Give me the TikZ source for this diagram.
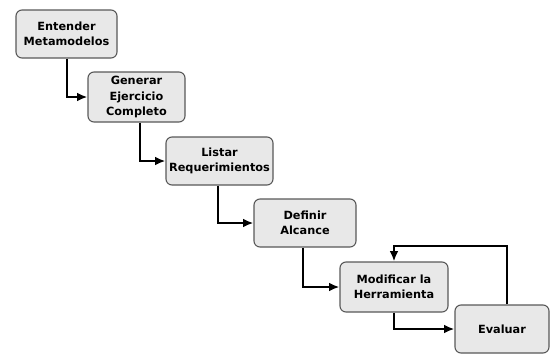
\documentclass[tikz,border=0pt]{standalone}
\usepackage{fontspec}
\setmainfont{DejaVu Sans}
\usepackage{tikz}
\usetikzlibrary{arrows.meta, positioning, calc}

\begin{document}
\begin{tikzpicture}[
    x=1pt, y=-1pt,
    paso/.style={
        rectangle,
        draw=gray!70!black,
        line width=1.1pt,
        rounded corners=6pt,
        fill=gray!18,
        minimum height=48pt,
        inner sep=1pt,
        align=center,
        font=\fontsize{11.3}{15.5}\selectfont\bfseries
    },
    arrow/.style={-{Latex[length=3.6mm, width=3mm]}, line width=2pt}
]

\useasboundingbox (0,0) rectangle (550,354);

\node[paso, minimum width=101pt] (entender) at (66.5,34) {Entender\\Metamodelos};
\node[paso, minimum width=97pt, minimum height=50pt] (generar) at (136.5,97) {Generar\\Ejercicio\\Completo};
\node[paso, minimum width=107pt] (listar) at (219.5,161) {Listar\\Requerimientos};
\node[paso, minimum width=102pt] (definir) at (305,223) {Definir\\Alcance};
\node[paso, minimum width=108pt, minimum height=50pt] (modificar) at (394,287) {Modificar la\\Herramienta};
\node[paso, minimum width=94pt] (evaluar) at (502,329) {Evaluar};

\coordinate (loopTop) at ([yshift=15pt]modificar.north);

\draw[arrow] (entender.south) |- (generar.west);
\draw[arrow] ([xshift=3pt]generar.south) |- (listar.west);
\draw[arrow] ([xshift=-2pt]listar.south) |- (definir.west);
\draw[arrow] ([xshift=-2pt]definir.south) |- (modificar.west);
\draw[arrow] (modificar.south) |- (evaluar.west);
\draw[arrow] ([xshift=5pt]evaluar.north) |- (loopTop) -- (modificar.north);

\end{tikzpicture}
\end{document}
